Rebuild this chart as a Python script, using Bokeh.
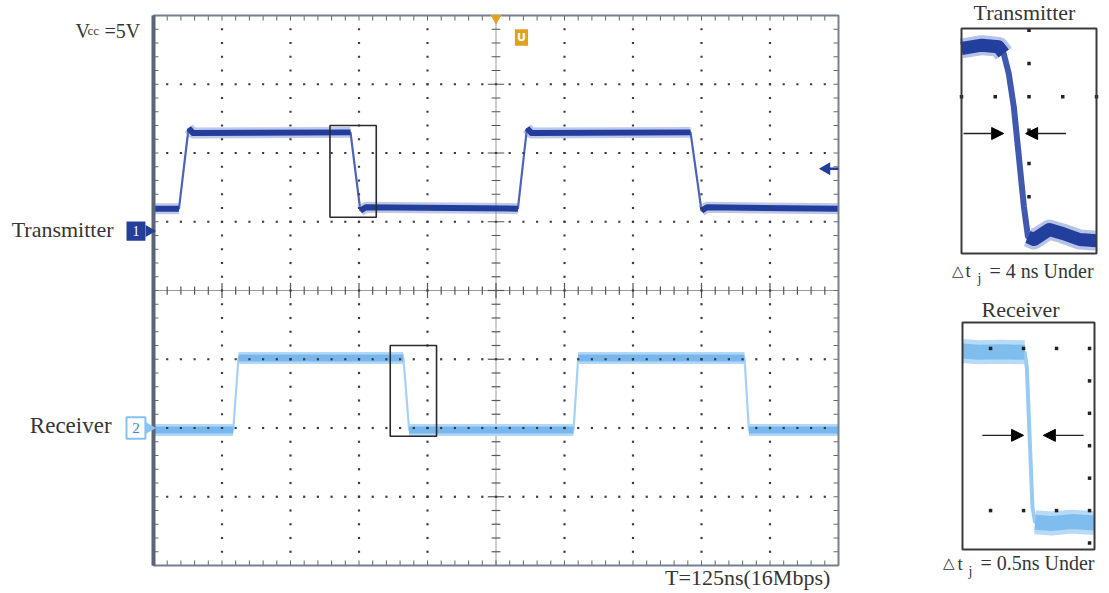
import numpy as np
from bokeh.plotting import figure
from bokeh.models import Range1d, Arrow, NormalHead
from bokeh.core.properties import value
from bokeh.embed import file_html
from bokeh.resources import INLINE

# ---------------- data ----------------
# main scope: time in ns (25 ns/div, 10 div), level in divisions (-4..4)
tx_t = [0, 9.3, 12.8, 14.5, 71.9, 75.5, 77.5, 133.0, 136.3, 138.0, 196.0, 200.0, 202.0, 250]
tx_v = [1.19, 1.19, 2.36, 2.29, 2.30, 1.16, 1.21, 1.19, 2.36, 2.29, 2.30, 1.16, 1.21, 1.19]
rx_t = [0, 29.1, 31.0, 91.2, 93.3, 153.3, 155.0, 215.7, 217.3, 250]
rx_v = [-2.03, -2.03, -0.98, -0.98, -2.03, -2.03, -0.98, -0.98, -2.03, -2.03]
ch_offset = [0.865, -2.0]          # channel ground markers 1, 2
trig_level = [1.77]
trig_time = [125.0]
# zoom windows drawn on the main screen: left, right, bottom, top
box_left = [64.4, 86.4]
box_right = [81.3, 103.3]
box_bottom = [1.066, -2.12]
box_top = [2.40, -0.80]

# transmitter inset (4 x 6.75 div)
txz_x = [0, 0.6, 1.1, 1.25, 1.4, 1.55, 1.85, 1.97, 2.15, 2.6, 3.0, 3.5, 4.0]
txz_y = [6.15, 6.25, 6.2, 6.0, 5.4, 4.4, 1.4, 0.5, 0.42, 0.72, 0.6, 0.42, 0.38]
# receiver inset (4 x 7 div)
rxz_x = [0, 0.5, 1.2, 1.88, 1.95, 2.12, 2.2, 2.7, 3.3, 4.0]
rxz_y = [6.12, 6.08, 6.1, 6.08, 5.6, 1.3, 0.84, 0.8, 0.86, 0.82]

labels_main = ["Transmitter", "Receiver"]
period_label = "T=125ns(16Mbps)"
inset_titles = ["Transmitter", "Receiver"]
inset_captions = ["= 4 ns Under", "= 0.5ns Under"]

# ---------------- layout helpers ----------------
W, H = 1108, 592


def rng(p0, v0, p1, v1, total):
    s = (v1 - v0) / (p1 - p0)
    return Range1d(start=v0 - p0 * s, end=v0 + (total - p0) * s)


p = figure(width=W, height=H, output_backend="svg", toolbar_location=None,
           x_axis_location=None, y_axis_location=None, min_border=0,
           x_range=rng(153, 0, 838, 250, W),
           y_range=rng(H - 565, -4, H - 15, 4, H))
p.extra_x_ranges = {"ix1": rng(961, 0, 1096, 4, W), "ix2": rng(962, 0, 1094, 4, W)}
p.extra_y_ranges = {"iy1": rng(H - 253, 0, H - 28, 6.75, H), "iy2": rng(H - 549, 0, H - 322, 7.0, H)}
p.grid.grid_line_color = None
p.outline_line_color = None
p.background_fill_color = "white"
p.border_fill_color = "white"

SERIF = value("Liberation Serif")
TXT = "#353535"


def split_runs(x, y, thr):
    flat_x, flat_y, cur_x, cur_y = [], [], None, None
    for i in range(len(x) - 1):
        slope = abs(y[i + 1] - y[i]) / (x[i + 1] - x[i])
        if slope < thr:
            if cur_x is None:
                cur_x, cur_y = [x[i]], [y[i]]
            cur_x.append(x[i + 1]); cur_y.append(y[i + 1])
        else:
            if cur_x is not None:
                flat_x.append(cur_x); flat_y.append(cur_y)
            cur_x = None
    if cur_x is not None:
        flat_x.append(cur_x); flat_y.append(cur_y)
    return flat_x, flat_y


# ---------------- main scope grid ----------------
minor_y = np.round(np.arange(-4, 4.0001, 0.2), 3)[1:-1]
minor_x = np.round(np.arange(0, 250.001, 5), 3)[1:-1]
major_x = [x for x in range(25, 250, 25) if x != 125]
major_y = [-3, -2, -1, 1, 2, 3]

# center lines
p.segment(x0=[0, 125], y0=[0, -4], x1=[250, 125], y1=[0, 4], line_color="#9a9a9a", line_width=1)
cx_len = np.where(np.isclose(minor_x % 25, 0), 0.11, 0.06)
p.segment(x0=minor_x, y0=-cx_len, x1=minor_x, y1=cx_len, line_color="#555555", line_width=1.2)
cy_len = np.where(np.isclose(np.abs(minor_y) % 1, 0), 3.0, 1.6)
p.segment(x0=125 - cy_len, y0=minor_y, x1=125 + cy_len, y1=minor_y, line_color="#555555", line_width=1.2)
# edge ticks
p.segment(x0=0, y0=minor_y, x1=1.8, y1=minor_y, line_color="#666666", line_width=1)
p.segment(x0=248.2, y0=minor_y, x1=250, y1=minor_y, line_color="#666666", line_width=1)
p.segment(x0=minor_x, y0=3.927, x1=minor_x, y1=4, line_color="#666666", line_width=1)
p.segment(x0=minor_x, y0=-4, x1=minor_x, y1=-3.927, line_color="#666666", line_width=1)

# ---------------- traces ----------------
fx, fy = split_runs(tx_t, tx_v, 0.05)
p.line(tx_t, tx_v, line_color="#4a64b8", line_width=2.2)
p.multi_line(fx, fy, line_color="#6f86cf", line_alpha=0.45, line_width=11, line_join="round")
p.multi_line(fx, fy, line_color="#223d9b", line_width=6, line_join="round")

fx, fy = split_runs(rx_t, rx_v, 0.05)
p.line(rx_t, rx_v, line_color="#a6d0f4", line_width=2.2)
p.multi_line(fx, fy, line_color="#b3d8f6", line_width=12)
p.multi_line(fx, fy, line_color="#78b7ee", line_width=7)

# grid dots (on top)
gx = list(np.repeat(major_x, len(minor_y))) + list(np.tile(minor_x, len(major_y)))
gy = list(np.tile(minor_y, len(major_x))) + list(np.repeat(major_y, len(minor_x)))
p.scatter(gx, gy, marker="square", size=2.2, fill_color="#3c3c3c", line_color=None)

# zoom boxes
p.quad(left=box_left, right=box_right, bottom=box_bottom, top=box_top,
       fill_color=None, line_color="#2a2a2a", line_width=1.6)

# screen frame
p.quad(left=[0], right=[250], bottom=[-4], top=[4], fill_color=None, line_color="#76808f", line_width=2)
p.segment(x0=[0], y0=[-4], x1=[0], y1=[4], line_color="#5a6577", line_width=4)

# trigger markers
p.scatter(trig_time, [3.96], marker="inverted_triangle", size=11, fill_color="#e8a020", line_color=None)
p.rect([trig_time[0] + 9.3], [3.68], width=4.8, height=0.24, fill_color="#e2a11c", line_color=None)
p.text([trig_time[0] + 9.3], [3.68], text=["U"], text_color="white", text_font=value("DejaVu Sans"),
       text_font_style="bold", text_font_size=value("11px"), text_align="center", text_baseline="middle")
p.segment(x0=[246.5], y0=trig_level, x1=[250], y1=trig_level, line_color="#223d9b", line_width=2.5)
p.scatter([245.6], trig_level, marker="triangle", angle=np.pi / 2, size=13,
          fill_color="#223d9b", line_color=None)

# channel markers
p.rect([-6.4], [ch_offset[0]], width=6.9, height=0.28, fill_color="#243f99", line_color=None)
p.scatter([-1.6], [ch_offset[0]], marker="triangle", angle=-np.pi / 2, size=12, fill_color="#243f99", line_color=None)
p.text([-6.4], [ch_offset[0]], text=["1"], text_color="white", text_font=SERIF,
       text_font_size=value("14px"), text_align="center", text_baseline="middle")
p.scatter([-1.6], [ch_offset[1]], marker="triangle", angle=-np.pi / 2, size=12, fill_color="#8cc6f0", line_color=None)
p.rect([-6.4], [ch_offset[1]], width=6.9, height=0.31, fill_color="white", line_color="#86c2ee", line_width=2)
p.text([-6.4], [ch_offset[1]], text=["2"], text_color="#3b86cf", text_font=SERIF,
       text_font_size=value("15px"), text_align="center", text_baseline="middle")

# texts around main screen
p.text([-14.6], [0.887], text=[labels_main[0]], text_color=TXT, text_font=SERIF,
       text_font_size=value("22px"), text_align="right", text_baseline="middle")
p.text([-15.3], [-1.964], text=[labels_main[1]], text_color=TXT, text_font=SERIF,
       text_font_size=value("23px"), text_align="right", text_baseline="middle")
p.text([-28.47, -17.88], [3.78, 3.78], text=["V", "=5V"], text_color=TXT, text_font=SERIF,
       text_font_size=value("20px"), text_align="left", text_baseline="alphabetic")
p.text([-24.1], [3.78], text=["cc"], text_color=TXT, text_font=SERIF,
       text_font_size=value("13px"), text_align="left", text_baseline="alphabetic")
p.text([247], [-4.17], text=[period_label], text_color=TXT, text_font=SERIF,
       text_font_size=value("22px"), text_align="right", text_baseline="middle")


def caption(xr, yr, xs, ys, rest):
    kw = dict(x_range_name=xr, y_range_name=yr, text_color=TXT, text_font=SERIF,
              text_align="left", text_baseline="middle")
    p.text([xs[0]], [ys[0]], text=["△"], text_font_size=value("15px"), **kw)
    p.text([xs[1]], [ys[0]], text=["t"], text_font_size=value("19px"), **kw)
    p.text([xs[2]], [ys[1]], text=["j"], text_font_size=value("14px"), **kw)
    p.text([xs[3]], [ys[0]], text=[rest], text_font_size=value("20px"), **kw)


# ---------------- insets ----------------
# transmitter inset
fx, fy = split_runs(txz_x, txz_y, 2.0)
p.line(txz_x, txz_y, x_range_name="ix1", y_range_name="iy1", line_color="#2b47a6", line_width=6, line_alpha=0.9)
p.multi_line(fx, fy, x_range_name="ix1", y_range_name="iy1", line_color="#6f86cf", line_alpha=0.5, line_width=20, line_join="round")
p.multi_line(fx, fy, x_range_name="ix1", y_range_name="iy1", line_color="#233f9e", line_width=13, line_join="round")
d1x = [2] * 6 + [0, 1, 3, 4]
d1y = [1.7, 2.7, 3.7, 4.7, 5.7, 6.7] + [4.7] * 4
p.scatter(d1x, d1y, x_range_name="ix1", y_range_name="iy1", marker="square", size=3.5,
          fill_color="#222222", line_color=None)
p.quad(left=[0], right=[4], bottom=[0], top=[6.75], x_range_name="ix1", y_range_name="iy1",
       fill_color=None, line_color="#3a3a3a", line_width=2)
for xs, xe in [(0.06, 1.25), (3.1, 1.9)]:
    p.add_layout(Arrow(end=NormalHead(size=12, fill_color="black", line_color="black"),
                       x_start=xs, y_start=3.6, x_end=xe, y_end=3.6, line_width=1.3,
                       line_color="#222222", x_range_name="ix1", y_range_name="iy1"))
p.text([1.867], [7.22], text=[inset_titles[0]], x_range_name="ix1", y_range_name="iy1",
       text_color=TXT, text_font=SERIF, text_font_size=value("22px"), text_align="center", text_baseline="middle")
caption("ix1", "iy1", [-0.267, 0.119, 0.474, 0.83], [-0.51, -0.74], inset_captions[0])

# receiver inset
fx, fy = split_runs(rxz_x, rxz_y, 2.0)
p.line(rxz_x, rxz_y, x_range_name="ix2", y_range_name="iy2", line_color="#98cbf3", line_width=4)
p.multi_line(fx, fy, x_range_name="ix2", y_range_name="iy2", line_color="#b7dbf7", line_width=24)
p.multi_line(fx, fy, x_range_name="ix2", y_range_name="iy2", line_color="#7fbdef", line_width=15)
d2x = [0.85, 1.85, 2.85, 3.85] * 2 + [3.85] * 5
d2y = [6.2] * 4 + [1.2] * 4 + [0.2, 2.2, 3.2, 4.2, 5.2]
p.scatter(d2x, d2y, x_range_name="ix2", y_range_name="iy2", marker="square", size=3.5,
          fill_color="#222222", line_color=None)
p.quad(left=[0], right=[4], bottom=[0], top=[7.0], x_range_name="ix2", y_range_name="iy2",
       fill_color=None, line_color="#3a3a3a", line_width=2)
for xs, xe in [(0.6, 1.85), (3.67, 2.45)]:
    p.add_layout(Arrow(end=NormalHead(size=12, fill_color="black", line_color="black"),
                       x_start=xs, y_start=3.52, x_end=xe, y_end=3.52, line_width=1.3,
                       line_color="#222222", x_range_name="ix2", y_range_name="iy2"))
p.text([1.76], [7.4], text=[inset_titles[1]], x_range_name="ix2", y_range_name="iy2",
       text_color=TXT, text_font=SERIF, text_font_size=value("22px"), text_align="center", text_baseline="middle")
caption("ix2", "iy2", [-0.576, -0.15, 0.18, 0.545], [-0.43, -0.68], inset_captions[1])

open("out.html", "w").write(file_html(p, INLINE))
